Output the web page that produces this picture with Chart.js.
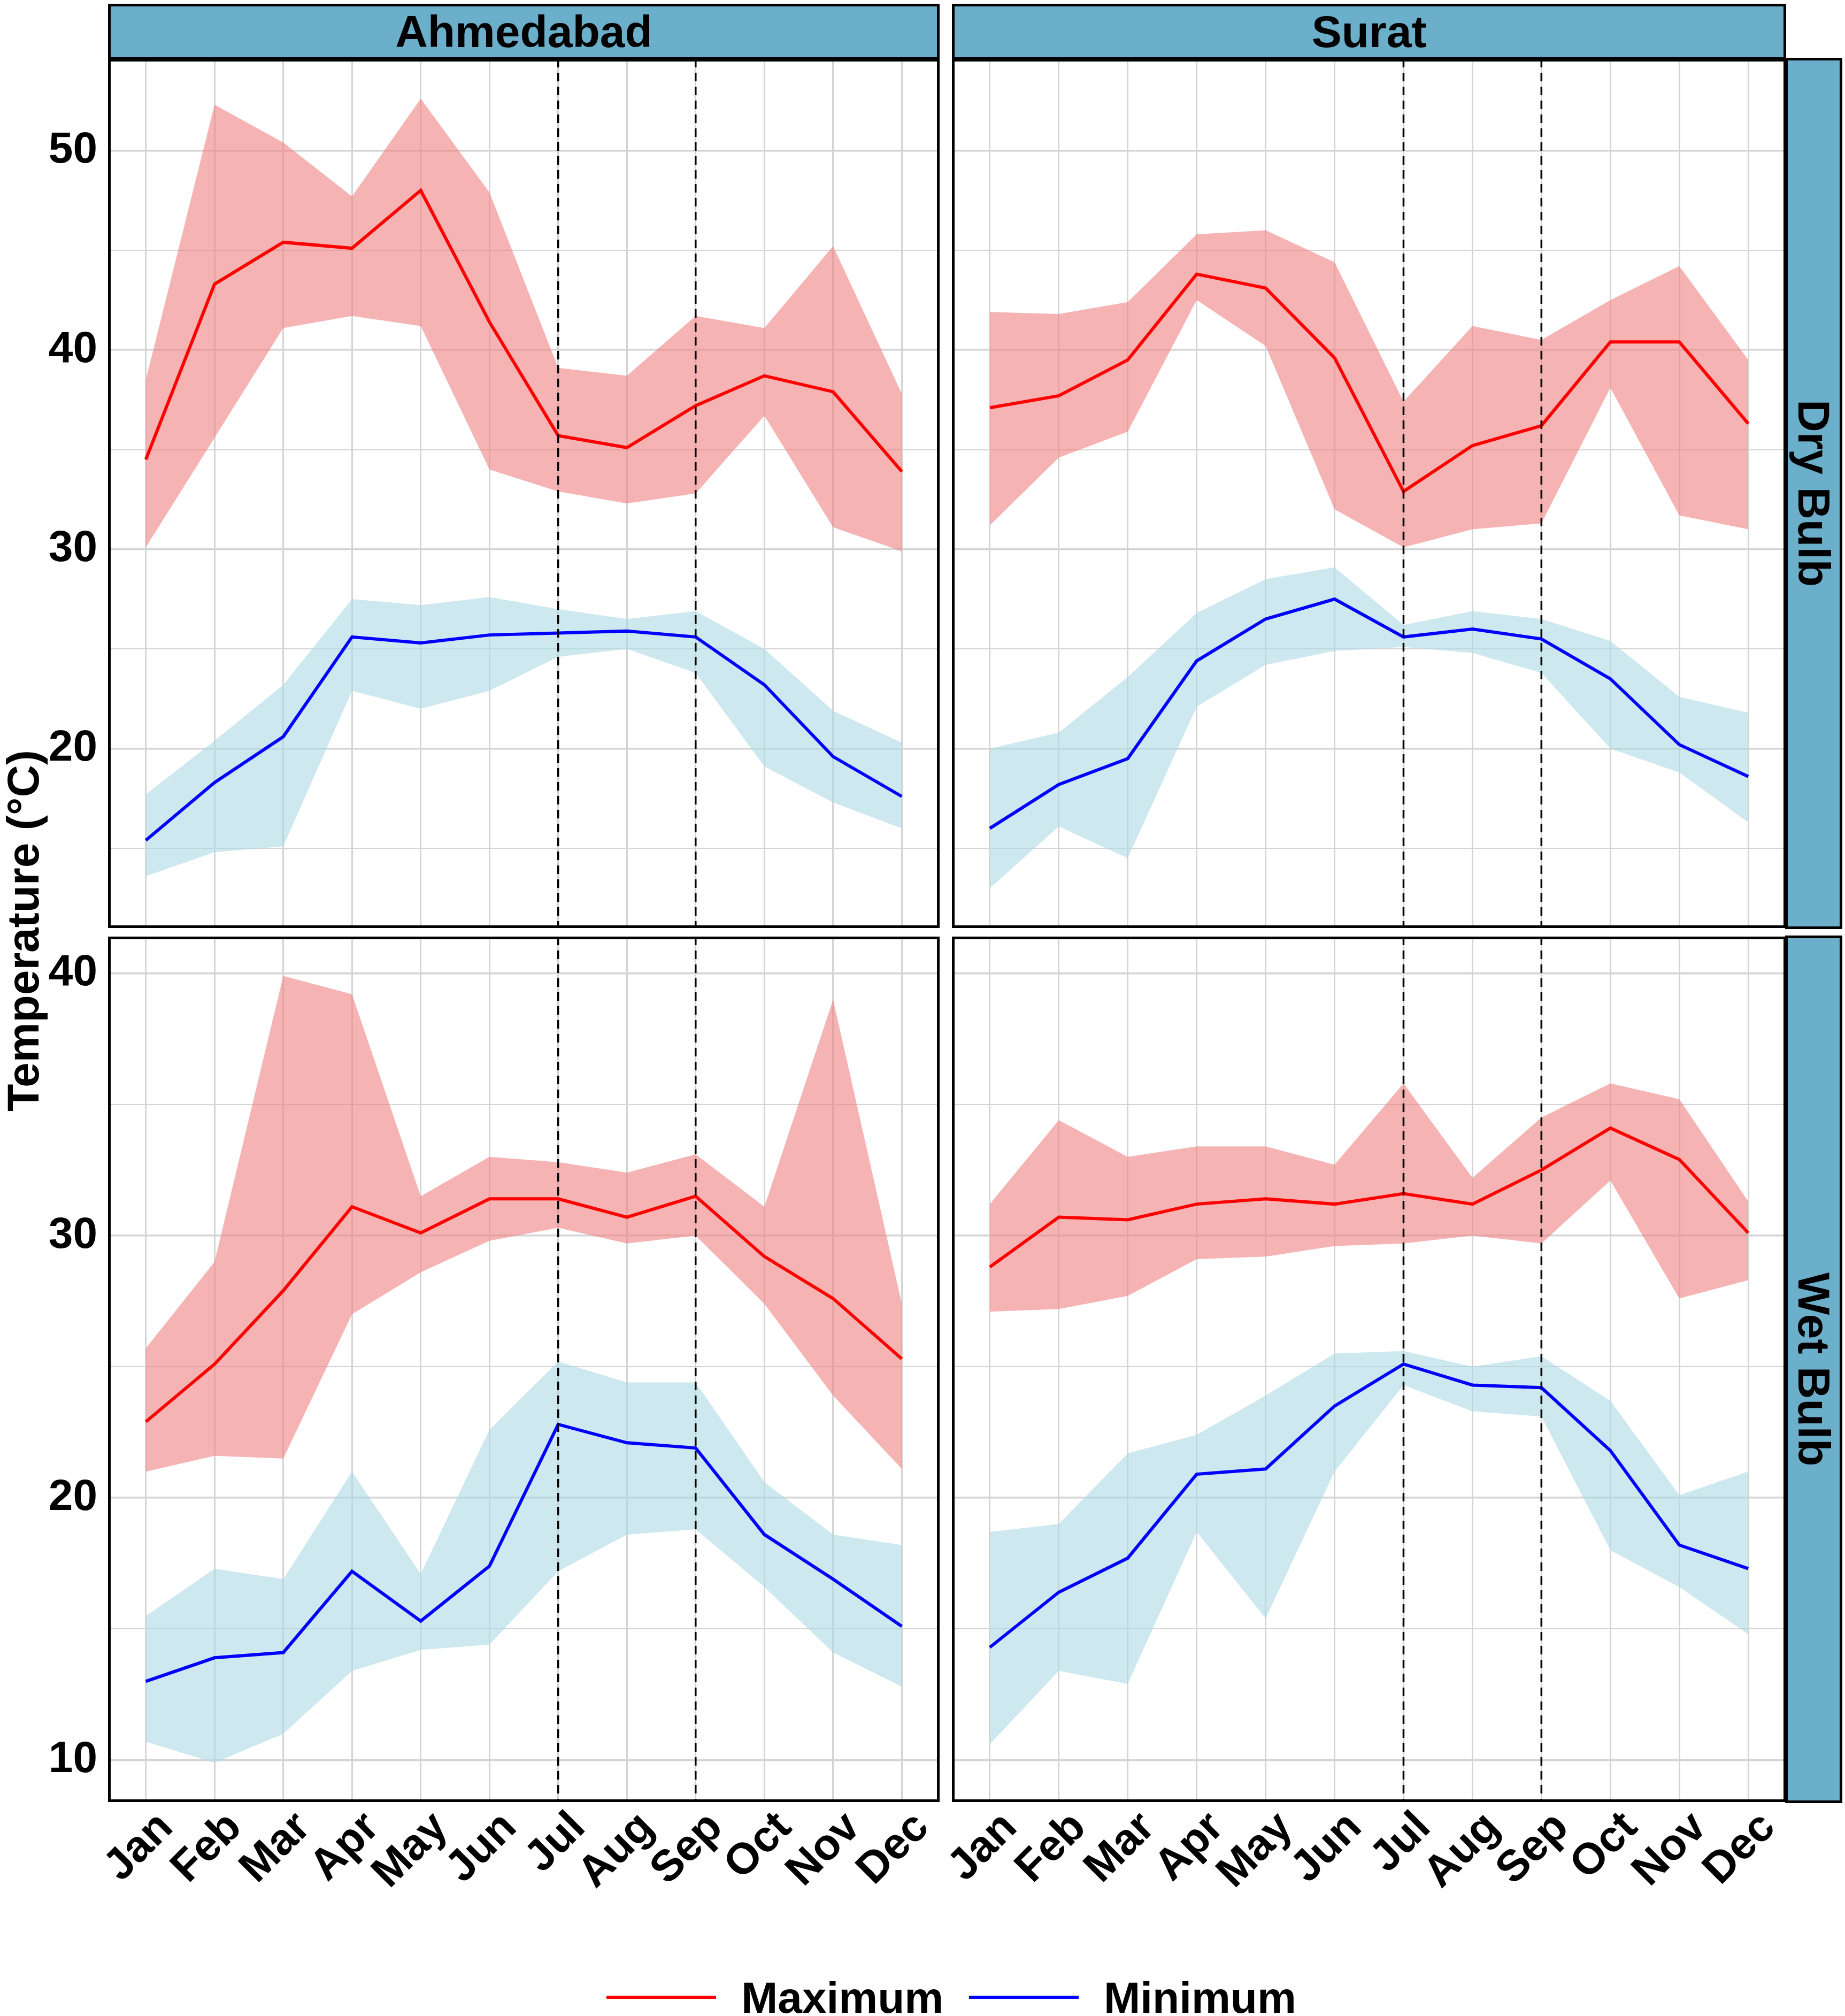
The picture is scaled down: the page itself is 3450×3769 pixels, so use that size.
<!DOCTYPE html>
<html>
<head>
<meta charset="utf-8">
<script src="https://cdn.jsdelivr.net/npm/chart.js@4.4.1/dist/chart.umd.min.js"></script>
<style>
  body { margin: 0; width: 3450px; height: 3769px; background: #fff; position: relative; overflow: hidden;
         font-family: 'Liberation Sans', Arial, sans-serif; font-weight: bold; color: #000; }
  .box { position: absolute; }
  .strip { position: absolute; background: #6bafcb; border: 5px solid #000; box-sizing: border-box;
           display: flex; align-items: center; justify-content: center; font-size: 84px; z-index: 5; }
  .strip.side span { writing-mode: vertical-rl; }
  .ytitle { position: absolute; left: 43px; top: 1740px; transform: translate(-50%, -50%) rotate(-90deg);
            white-space: nowrap; font-size: 84px; }
  .leg { position: absolute; top: 3694px; height: 82px; line-height: 82px; font-size: 82px; white-space: nowrap; }
  .legline { position: absolute; top: 3731px; height: 6px; width: 205px; }
</style>
</head>
<body>
<div class="strip" style="left:202px; top:7px; width:1555px; height:105px;">Ahmedabad</div>
<div class="strip" style="left:1780px; top:7px; width:1560px; height:105px;">Surat</div>
<div class="strip side" style="left:3338px; top:108px; width:107px; height:1629px;"><span>Dry Bulb</span></div>
<div class="strip side" style="left:3338px; top:1749px; width:107px; height:1622px;"><span>Wet Bulb</span></div>
<div class="ytitle">Temperature (°C)</div>
<div class="legline" style="left:1134px; background:#ff0000;"></div>
<div class="leg" style="left:1386px;">Maximum</div>
<div class="legline" style="left:1812px; background:#0000ff;"></div>
<div class="leg" style="left:2064px;">Minimum</div>

<script>
const months = ['Jan', 'Feb', 'Mar', 'Apr', 'May', 'Jun', 'Jul', 'Aug', 'Sep', 'Oct', 'Nov', 'Dec'];
const markMonths = ['Jul', 'Sep'];

const dryGrid = [15, 20, 25, 30, 35, 40, 45, 50];
const wetGrid = [10, 15, 20, 25, 30, 35, 40];

// Ahmedabad, dry bulb
const ahdDryMax   = [34.5, 43.3, 45.4, 45.1, 48.0, 41.4, 35.7, 35.1, 37.2, 38.7, 37.9, 33.9];
const ahdDryMaxHi = [38.5, 52.3, 50.4, 47.7, 52.6, 47.9, 39.1, 38.7, 41.7, 41.1, 45.2, 37.8];
const ahdDryMaxLo = [30.1, 35.6, 41.1, 41.7, 41.2, 34.0, 32.9, 32.3, 32.8, 36.7, 31.1, 29.9];
const ahdDryMin   = [15.4, 18.3, 20.6, 25.6, 25.3, 25.7, 25.8, 25.9, 25.6, 23.2, 19.6, 17.6];
const ahdDryMinHi = [17.7, 20.4, 23.2, 27.5, 27.2, 27.6, 27.0, 26.5, 26.9, 25.0, 21.9, 20.3];
const ahdDryMinLo = [13.6, 14.8, 15.1, 22.9, 22.0, 22.9, 24.6, 25.0, 23.8, 19.1, 17.3, 16.0];

// Surat, dry bulb
const surDryMax   = [37.1, 37.7, 39.5, 43.8, 43.1, 39.6, 32.9, 35.2, 36.2, 40.4, 40.4, 36.3];
const surDryMaxHi = [41.9, 41.8, 42.4, 45.8, 46.0, 44.4, 37.4, 41.2, 40.5, 42.5, 44.2, 39.5];
const surDryMaxLo = [31.2, 34.6, 35.9, 42.5, 40.2, 32.0, 30.1, 31.0, 31.3, 38.1, 31.7, 31.0];
const surDryMin   = [16.0, 18.2, 19.5, 24.4, 26.5, 27.5, 25.6, 26.0, 25.5, 23.5, 20.2, 18.6];
const surDryMinHi = [20.0, 20.8, 23.6, 26.8, 28.5, 29.1, 26.2, 26.9, 26.5, 25.4, 22.6, 21.8];
const surDryMinLo = [13.0, 16.1, 14.5, 22.1, 24.2, 24.9, 25.1, 24.8, 23.8, 20.0, 18.8, 16.3];

// Ahmedabad, wet bulb
const ahdWetMax   = [22.9, 25.1, 27.9, 31.1, 30.1, 31.4, 31.4, 30.7, 31.5, 29.2, 27.6, 25.3];
const ahdWetMaxHi = [25.7, 29.0, 39.9, 39.2, 31.5, 33.0, 32.8, 32.4, 33.1, 31.1, 39.0, 27.4];
const ahdWetMaxLo = [21.0, 21.6, 21.5, 27.0, 28.6, 29.8, 30.3, 29.7, 30.0, 27.4, 23.9, 21.1];
const ahdWetMin   = [13.0, 13.9, 14.1, 17.2, 15.3, 17.4, 22.8, 22.1, 21.9, 18.6, 16.9, 15.1];
const ahdWetMinHi = [15.5, 17.3, 16.9, 21.0, 17.1, 22.6, 25.2, 24.4, 24.4, 20.6, 18.6, 18.2];
const ahdWetMinLo = [10.7, 9.9, 11.0, 13.4, 14.2, 14.4, 17.2, 18.6, 18.8, 16.6, 14.1, 12.8];

// Surat, wet bulb
const surWetMax   = [28.8, 30.7, 30.6, 31.2, 31.4, 31.2, 31.6, 31.2, 32.5, 34.1, 32.9, 30.1];
const surWetMaxHi = [31.2, 34.4, 33.0, 33.4, 33.4, 32.7, 35.8, 32.2, 34.5, 35.8, 35.2, 31.3];
const surWetMaxLo = [27.1, 27.2, 27.7, 29.1, 29.2, 29.6, 29.7, 30.0, 29.7, 32.1, 27.6, 28.3];
const surWetMin   = [14.3, 16.4, 17.7, 20.9, 21.1, 23.5, 25.1, 24.3, 24.2, 21.8, 18.2, 17.3];
const surWetMinHi = [18.7, 19.0, 21.7, 22.4, 23.9, 25.5, 25.6, 25.0, 25.4, 23.7, 20.1, 21.0];
const surWetMinLo = [10.6, 13.4, 12.9, 18.7, 15.4, 21.0, 24.3, 23.3, 23.1, 18.0, 16.6, 14.8];

Chart.defaults.font.family = "'Liberation Sans', Arial, sans-serif";
Chart.defaults.font.weight = 'bold';
Chart.defaults.color = '#000';

const pts = arr => arr.map((v, i) => ({ x: i, y: v }));

const panelDecor = {
    id: 'panelDecor',
    afterDatasetsDraw(chart) {
        const { ctx, chartArea: a, scales: { x } } = chart;
        ctx.save();
        ctx.strokeStyle = '#000';
        ctx.lineWidth = 3.5;
        ctx.setLineDash([16, 10]);
        markMonths.forEach(m => {
            const px = x.getPixelForValue(months.indexOf(m));
            ctx.beginPath();
            ctx.moveTo(px, a.top);
            ctx.lineTo(px, a.bottom);
            ctx.stroke();
        });
        ctx.setLineDash([]);
        ctx.lineWidth = 5;
        ctx.strokeRect(a.left + 2.5, a.top + 2.5, a.width - 5, a.height - 5);
        ctx.restore();
    }
};

function makePanel(left, top, width, height, p) {
    const holder = document.createElement('div');
    holder.className = 'box';
    holder.style.left = left + 'px';
    holder.style.top = top + 'px';
    const canvas = document.createElement('canvas');
    canvas.width = width;
    canvas.height = height;
    holder.appendChild(canvas);
    document.body.appendChild(holder);

    new Chart(canvas, {
        type: 'line',
        data: {
            datasets: [
                { label: 'Maximum', data: pts(p.max), borderColor: '#ff0000', borderWidth: 6, fill: false },
                { label: 'Minimum', data: pts(p.min), borderColor: '#0000ff', borderWidth: 6, fill: false },
                { data: pts(p.maxLo), borderWidth: 0, fill: false },
                { data: pts(p.maxHi), borderWidth: 0, fill: '-1', backgroundColor: 'rgba(240,128,128,0.6)' },
                { data: pts(p.minLo), borderWidth: 0, fill: false },
                { data: pts(p.minHi), borderWidth: 0, fill: '-1', backgroundColor: 'rgba(173,216,230,0.6)' }
            ]
        },
        options: {
            responsive: false,
            animation: false,
            devicePixelRatio: 1,
            layout: { padding: 0 },
            elements: { point: { radius: 0 }, line: { tension: 0 } },
            plugins: { legend: { display: false }, tooltip: { enabled: false } },
            scales: {
                x: {
                    type: 'linear',
                    min: -0.55,
                    max: 11.55,
                    afterBuildTicks: s => { s.ticks = months.map((m, i) => ({ value: i })); },
                    afterFit: s => {
                        s.height = p.showX ? 230 : 0;
                        s.paddingLeft = 0;
                        s.paddingRight = 0;
                    },
                    border: { display: false },
                    grid: { color: '#d4d4d4', lineWidth: 3, drawTicks: false },
                    ticks: {
                        display: p.showX,
                        autoSkip: false,
                        minRotation: 45,
                        maxRotation: 45,
                        padding: 0,
                        labelOffset: 38,
                        font: { size: 82, weight: 'bold' },
                        callback: v => months[v]
                    }
                },
                y: {
                    min: p.yMin,
                    max: p.yMax,
                    afterBuildTicks: s => { s.ticks = p.grid.map(v => ({ value: v })); },
                    afterFit: s => {
                        s.width = 202;
                        s.paddingTop = 0;
                        s.paddingBottom = 0;
                    },
                    border: { display: false },
                    grid: {
                        color: '#d4d4d4',
                        lineWidth: c => (c.tick && c.tick.value % 10 === 0 ? 3.5 : 2),
                        drawTicks: false
                    },
                    ticks: {
                        display: p.showY,
                        padding: 20,
                        font: { size: 82, weight: 'bold' },
                        callback: v => (v % 10 === 0 ? v : '')
                    }
                }
            }
        },
        plugins: [panelDecor]
    });
}

makePanel(0, 110, 1757, 1625, {
    max: ahdDryMax, maxHi: ahdDryMaxHi, maxLo: ahdDryMaxLo,
    min: ahdDryMin, minHi: ahdDryMinHi, minLo: ahdDryMinLo,
    yMin: 11.0, yMax: 54.6, grid: dryGrid, showY: true, showX: false
});
makePanel(1578, 110, 1762, 1625, {
    max: surDryMax, maxHi: surDryMaxHi, maxLo: surDryMaxLo,
    min: surDryMin, minHi: surDryMinHi, minLo: surDryMinLo,
    yMin: 11.0, yMax: 54.6, grid: dryGrid, showY: false, showX: false
});
makePanel(0, 1751, 1757, 1848, {
    max: ahdWetMax, maxHi: ahdWetMaxHi, maxLo: ahdWetMaxLo,
    min: ahdWetMin, minHi: ahdWetMinHi, minLo: ahdWetMinLo,
    yMin: 8.4, yMax: 41.4, grid: wetGrid, showY: true, showX: true
});
makePanel(1578, 1751, 1762, 1848, {
    max: surWetMax, maxHi: surWetMaxHi, maxLo: surWetMaxLo,
    min: surWetMin, minHi: surWetMinHi, minLo: surWetMinLo,
    yMin: 8.4, yMax: 41.4, grid: wetGrid, showY: false, showX: true
});
</script>
</body>
</html>
